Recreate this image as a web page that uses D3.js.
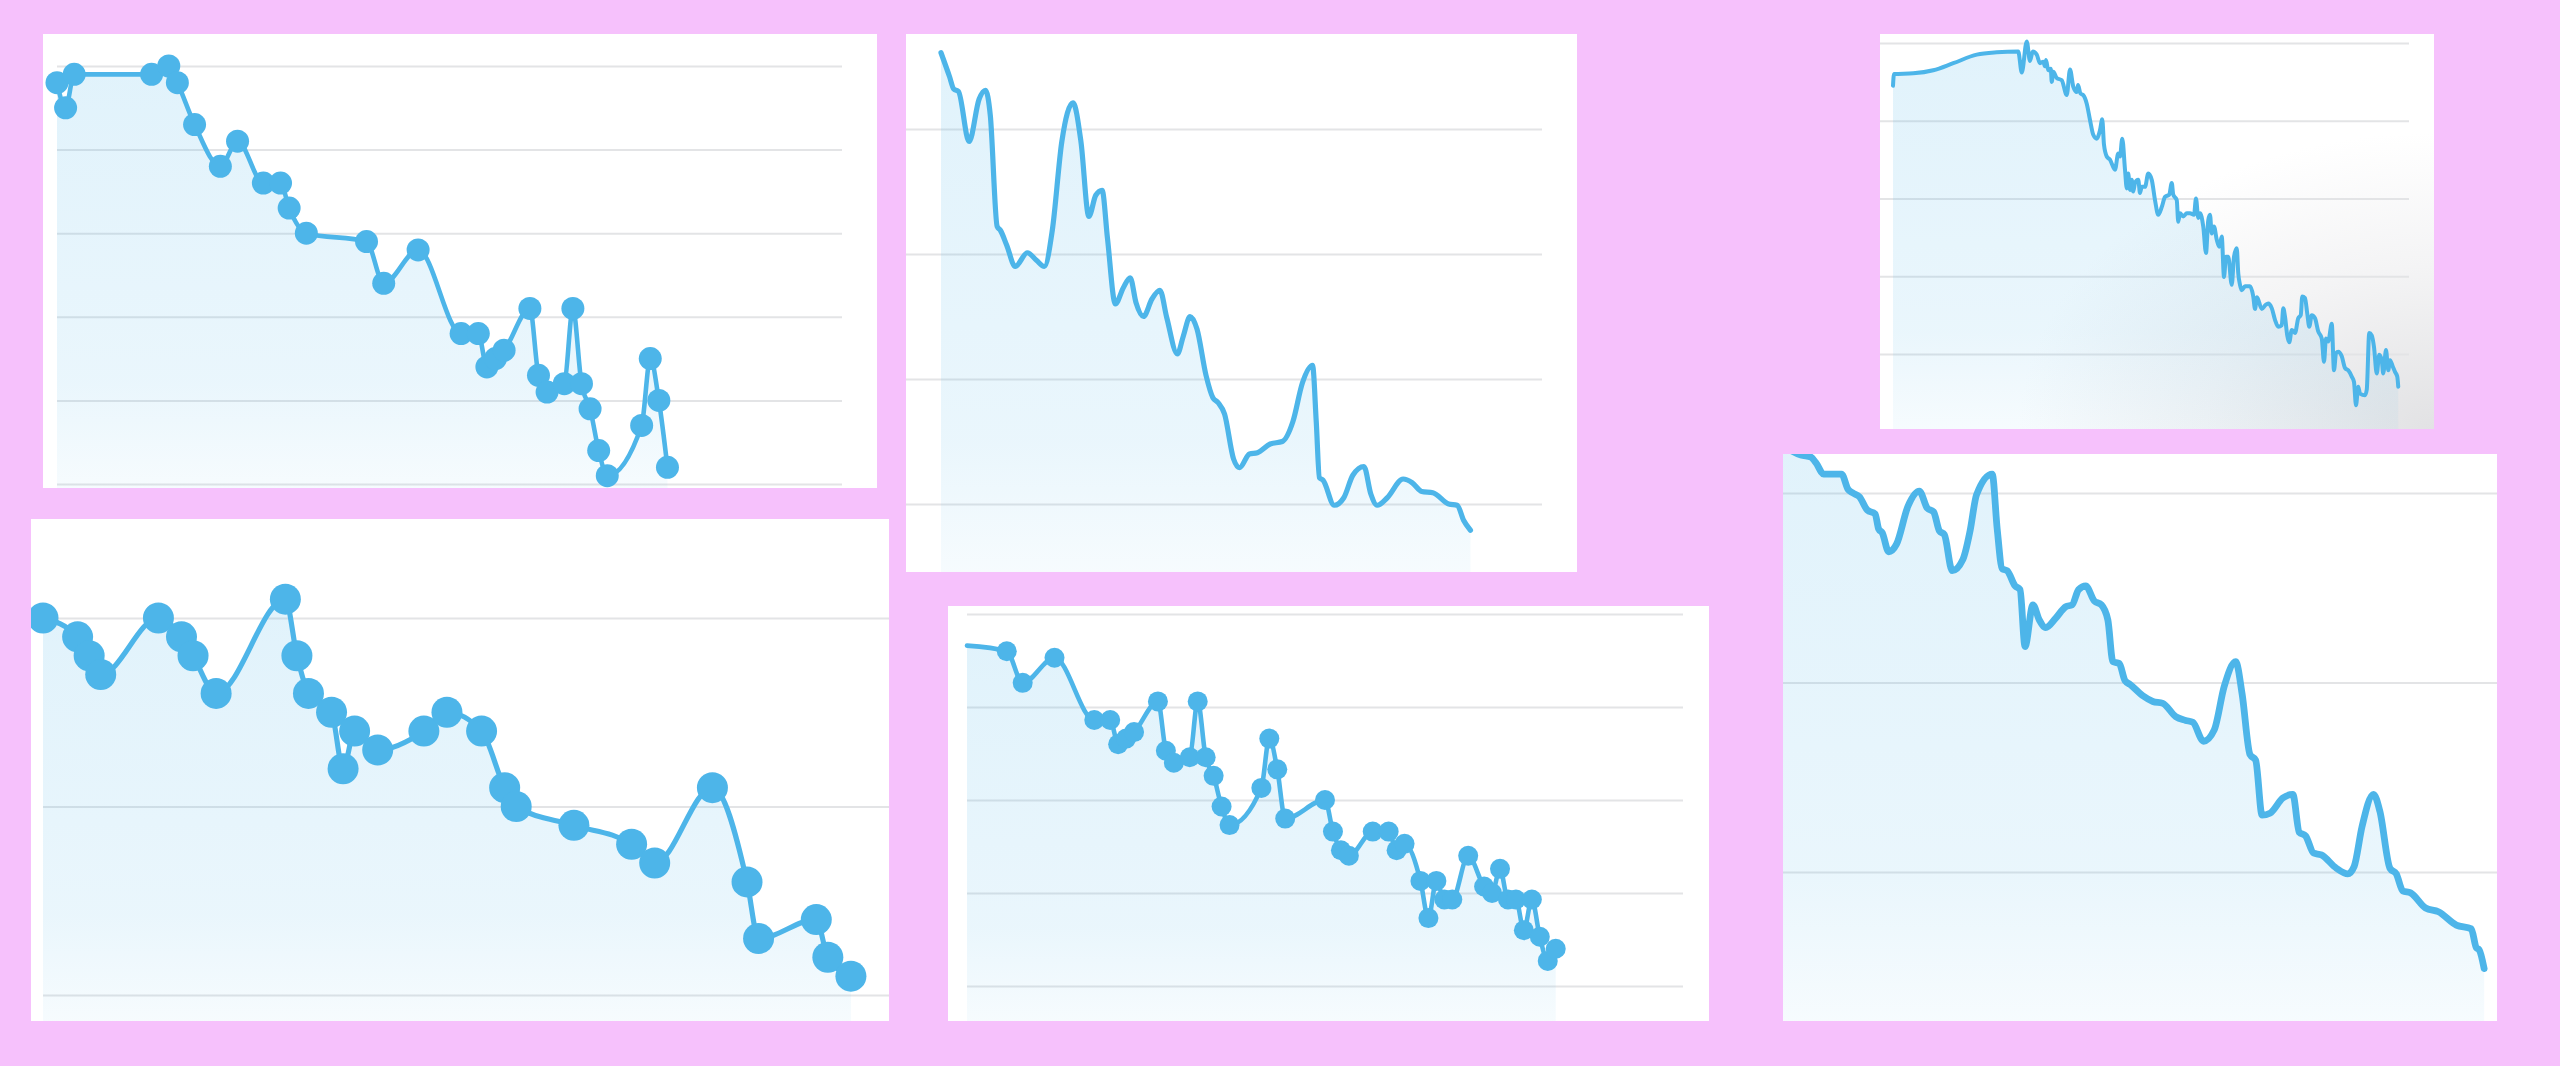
<!DOCTYPE html>
<meta charset="utf-8">
<style>
body { margin: 0; background: #f6c1fc; }
svg { display: block; }
.grid line { stroke: #e3e4e6; stroke-width: 2px; }
.grid path { display: none; }
.line { fill: none; stroke: #4db5e9; stroke-linejoin: round; stroke-linecap: round; }
.dot { fill: #4db5e9; }
</style>
<svg width="2560" height="1066"></svg>
<script src="https://d3js.org/d3.v7.min.js"></script>
<script>

// top left - dotted series
var p1X = [0,1,2,11,13,14,16,19,21,24,26,27,29,36,38,42,47,49,50,51,52,55,56,57,59,60,61,62,63,64,68,69,70,71];
var p1Y = [48,45,49,49,50,48,43,38,41,36,36,33,30,29,24,28,18,18,14,15,16,21,13,11,12,21,12,9,4,1,7,15,10,2];
var p1Ticks = [0,10,20,30,40,50];

// top middle - smooth series
var p2X = [0,1.6,2.4,3.3,5.3,7.2,8.4,9.3,10.6,11.2,12.4,14.0,16.3,18.0,19.5,21.0,22.8,24.9,26.4,27.9,
  29.2,30.4,31.4,32.9,34.4,35.7,36.8,38.2,39.8,41.3,42.6,44.6,45.7,47.0,48.3,50.0,51.3,52.3,53.5,55.2,
  56.3,58.2,59.7,62.1,64.4,66.4,68.2,70.1,70.8,71.4,72.1,74.2,76.0,77.7,79.8,81.1,82.3,84.2,87.2,88.9,
  90.7,92.8,95.8,97.4,98.6,99.9];
var p2Y = [46.1,44.2,43.2,43.0,39.0,42.4,43.1,41.1,32.2,31.9,30.7,29.0,30.1,29.5,29.0,31.9,39.0,42.1,39.0,33.0,
  34.7,35.1,31.3,26.0,27.3,28.1,26.1,25.0,26.4,27.1,24.9,22.0,23.4,25.0,24.0,20.3,18.5,18.1,17.2,13.6,
  12.9,14.0,14.1,14.8,15.0,16.6,19.7,21.1,16.6,12.1,11.9,9.9,10.5,12.3,13.0,10.8,9.9,10.5,12.0,11.7,
  11.0,10.9,10.0,9.9,8.7,7.9];
var p2Ticks = [10,20,30,40];

// top right - noisy daily series
var p3X = [0,0.4,8.1,16.1,24.1,33.5,41.5,50.1,51.5,53.5,54.8,55.9,57.5,58.8,60.1,60.8,61.2,62.1,63.1,63.5,
  64.1,65.5,67.5,69.5,70.8,72.1,73.5,74.0,75.0,76.1,77.5,78.8,80.1,81.5,82.8,83.7,84.4,85.5,86.8,88.8,
  90.1,90.8,91.7,92.8,93.5,94.1,94.8,95.5,96.1,96.8,98.1,98.8,99.5,100.8,102.1,103.5,104.8,106.1,107.5,108.8,
  110.5,111.5,112.1,113.5,114.1,114.8,116.1,117.5,118.8,120.4,121.2,122.1,122.8,124.1,125.2,126.1,126.8,127.5,128.4,129.5,
  130.5,131.5,132.4,133.2,134.1,135.5,136.4,137.5,138.1,138.8,139.5,140.8,142.8,144.1,144.8,145.6,147.5,149.0,150.1,151.5,
  152.8,154.1,155.5,156.1,156.8,157.7,158.5,159.5,160.8,162.1,163.1,163.7,164.8,165.7,166.5,167.5,168.8,170.1,171.5,172.4,
  173.2,174.1,175.5,176.4,177.2,178.1,179.5,180.8,182.1,183.5,184.4,185.2,186.1,186.8,188.8,189.5,190.5,191.5,192.4,193.5,
  194.5,195.5,196.1,197.2,198.1,198.8,199.9,200.8,201.7,202.1];
var p3Y = [44.5,46.0,46.1,46.5,47.4,48.5,48.8,48.9,46.2,50.2,47.7,48.9,48.5,47.4,47.6,47.0,47.8,46.5,46.7,45.0,
  46.3,45.5,45.2,43.3,46.6,44.4,43.7,44.6,43.5,43.3,42.2,40.1,38.2,37.7,38.8,40.2,36.9,35.4,35.0,33.7,
  35.8,35.4,37.7,33.7,31.3,33.2,31.1,32.4,30.9,32.0,32.4,30.7,31.5,31.5,33.2,32.4,29.8,27.9,28.9,30.2,
  30.5,32.0,30.5,29.8,27.0,28.1,27.7,28.1,28.1,27.9,30.0,27.5,28.1,26.4,23.0,27.2,27.9,25.5,26.4,24.7,
  23.8,25.1,19.9,22.5,22.5,18.9,22.5,23.6,20.4,18.9,18.2,18.7,18.7,17.4,15.8,17.3,15.8,16.3,16.5,15.9,
  14.4,13.5,13.7,15.9,14.8,12.4,11.5,13.1,12.7,14.6,15.0,17.4,17.2,15.2,13.5,15.0,14.6,12.9,12.0,9.0,
  12.0,11.6,13.9,7.9,10.1,10.3,9.7,8.2,7.9,7.1,6.4,3.4,5.8,4.9,4.7,5.4,12.7,12.4,10.9,7.5,
  9.9,9.2,7.5,10.5,7.9,9.2,8.4,7.7,7.1,5.8];
var p3Ticks = [10,20,30,40,50];

// bottom left - big dots
var p4X = [0,3,4,5,10,12,13,15,21,22,23,25,26,27,29,33,35,38,40,41,46,51,53,58,61,62,67,68,70];
var p4Y = [20,19,18,17,20,19,18,16,21,18,16,15,12,14,13,14,15,14,11,10,9,8,7,11,6,3,4,2,1];
var p4Ticks = [0,10,20];

// bottom middle - dotted series
var p5X = [0,5,7,11,16,18,19,20,21,24,25,26,28,29,30,31,32,33,37,38,39,40,45,46,47,48,51,53,54,55,
  57,58,59,60,61,63,65,66,67,68,69,70,71,72,73,74];
var p5Y = [36.6,36.0,32.6,35.3,28.6,28.6,26.0,26.6,27.3,30.6,25.3,24.0,24.6,30.6,24.6,22.6,19.3,17.3,21.3,26.6,
  23.3,18.0,20.0,16.6,14.6,14.0,16.6,16.6,14.6,15.3,11.3,7.3,11.3,9.3,9.3,14.0,10.7,10.0,12.6,9.3,
  9.3,6.0,9.3,5.3,2.7,4.0];
var p5Ticks = [0,10,20,30,40];

// right - smooth thick series
var p6X = [0,2.5,3.9,4.6,5.7,8.2,9.1,9.8,10.7,11.8,12.9,13.4,13.9,14.8,15.9,17.5,19.1,20.2,21.1,21.9,
  22.6,23.7,25.2,26.2,27.1,29.3,30.0,30.7,31.4,32.5,33.2,33.9,35.0,35.9,36.8,38.2,39.6,40.5,41.4,42.4,
  43.6,44.6,45.5,46.2,47.1,47.9,48.6,50.4,51.8,53.2,55.0,56.4,57.4,58.9,60.4,61.8,63.4,64.3,65.4,66.2,
  67.1,68.2,70.0,71.4,72.3,73.2,74.3,75.4,77.5,79.1,80.0,81.1,82.7,83.6,85.0,85.9,86.8,87.9,90.0,91.8,
  94.3,96.4,97.1,97.5,98.2];
var p6Y = [32.5,32.0,31.9,31.6,31.0,31.0,30.2,30.0,29.8,29.1,28.9,28.1,27.9,26.9,27.3,29.3,30.1,29.2,29.0,28.0,
  27.8,25.9,26.5,28.0,29.9,31.0,28.1,26.0,25.9,25.1,24.9,21.9,24.1,23.3,22.9,23.4,24.0,24.1,24.9,25.1,
  24.3,24.1,23.3,21.1,21.0,20.1,19.9,19.3,19.0,18.9,18.2,18.0,17.9,16.9,17.5,19.8,21.1,19.4,16.2,15.9,
  13.0,13.1,13.9,14.1,12.1,11.9,11.0,10.9,10.2,9.9,10.3,12.4,14.1,13.2,10.2,9.9,9.0,8.9,8.1,7.9,
  7.2,7.0,6.0,5.9,4.9];
var p6Ticks = [10,20,30];

// layout of the six cards
var panels = [
  {xv: p1X, yv: p1Y, ticks: p1Ticks, box: [43, 34, 877, 488], xd: [0, 91.3], xr: [57, 842], yd: [0, 50], yr: [484, 66], gx: [57, 842], sw: 4.6, r: 11.5},
  {xv: p2X, yv: p2Y, ticks: p2Ticks, box: [906, 34, 1577, 572], xd: [0, 100], xr: [941, 1471], yd: [10, 40], yr: [504, 129], gx: [906, 1542], sw: 5.2},
  {xv: p3X, yv: p3Y, ticks: p3Ticks, box: [1880, 34, 2434, 429], xd: [0, 202], xr: [1893, 2398], yd: [10, 50], yr: [354, 43], gx: [1880, 2409], sw: 4},
  {xv: p4X, yv: p4Y, ticks: p4Ticks, box: [31, 519, 889, 1021], xd: [0, 73.3], xr: [43, 889], yd: [0, 20], yr: [995, 618], gx: [43, 889], sw: 5.2, r: 15.5},
  {xv: p5X, yv: p5Y, ticks: p5Ticks, box: [948, 606, 1709, 1021], xd: [0, 90], xr: [967, 1683], yd: [0, 40], yr: [986, 614], gx: [967, 1683], sw: 4.6, r: 10, skipFirst: true},
  {xv: p6X, yv: p6Y, ticks: p6Ticks, box: [1783, 454, 2497, 1021], xd: [0, 100], xr: [1783, 2497], yd: [10, 30], yr: [872, 493], gx: [1783, 2497], sw: 6.8}
];
panels[2].shade = true;

var svg = d3.select("svg");
var defs = svg.append("defs");

var fillGrad = defs.append("linearGradient")
  .attr("id", "fill").attr("x1", 0).attr("y1", 0).attr("x2", 0).attr("y2", 1);
fillGrad.append("stop").attr("offset", "0%").attr("stop-color", "#4db5e9").attr("stop-opacity", 0.17);
fillGrad.append("stop").attr("offset", "75%").attr("stop-color", "#4db5e9").attr("stop-opacity", 0.12);
fillGrad.append("stop").attr("offset", "100%").attr("stop-color", "#4db5e9").attr("stop-opacity", 0.05);

// greyish corner on the top right card
var shadeGrad = defs.append("radialGradient")
  .attr("id", "shade").attr("cx", 1).attr("cy", 1).attr("r", 0.75).attr("fx", 1).attr("fy", 1);
shadeGrad.append("stop").attr("offset", "0%").attr("stop-color", "#e2e2e4");
shadeGrad.append("stop").attr("offset", "55%").attr("stop-color", "#f4f4f5");
shadeGrad.append("stop").attr("offset", "100%").attr("stop-color", "#ffffff");

panels.forEach(function(p, i) {
  var b = p.box;
  var data = p.xv.map(function(x, j) { return {x: x, y: p.yv[j]}; });

  var x = d3.scaleLinear().domain(p.xd).range(p.xr);
  var y = d3.scaleLinear().domain(p.yd).range(p.yr);

  defs.append("clipPath").attr("id", "clip" + i)
    .append("rect").attr("x", b[0]).attr("y", b[1]).attr("width", b[2] - b[0]).attr("height", b[3] - b[1]);

  var g = svg.append("g").attr("clip-path", "url(#clip" + i + ")");

  g.append("rect")
    .attr("x", b[0]).attr("y", b[1])
    .attr("width", b[2] - b[0]).attr("height", b[3] - b[1])
    .attr("fill", p.shade ? "url(#shade)" : "#fff");

  // gridlines from the axis
  g.append("g")
    .attr("class", "grid")
    .attr("transform", "translate(" + p.gx[0] + ",0)")
    .call(d3.axisLeft(y).tickValues(p.ticks).tickSize(-(p.gx[1] - p.gx[0])).tickFormat(""));

  var area = d3.area()
    .curve(d3.curveMonotoneX)
    .x(function(d) { return x(d.x); })
    .y0(b[3])
    .y1(function(d) { return y(d.y); });

  var line = d3.line()
    .curve(d3.curveMonotoneX)
    .x(function(d) { return x(d.x); })
    .y(function(d) { return y(d.y); });

  g.append("path").datum(data).attr("d", area).attr("fill", "url(#fill)");
  g.append("path").datum(data).attr("class", "line").attr("d", line).attr("stroke-width", p.sw);

  if (p.r) {
    g.selectAll(".dot")
      .data(p.skipFirst ? data.slice(1) : data)
      .enter().append("circle")
      .attr("class", "dot")
      .attr("cx", function(d) { return x(d.x); })
      .attr("cy", function(d) { return y(d.y); })
      .attr("r", p.r);
  }
});

</script>
